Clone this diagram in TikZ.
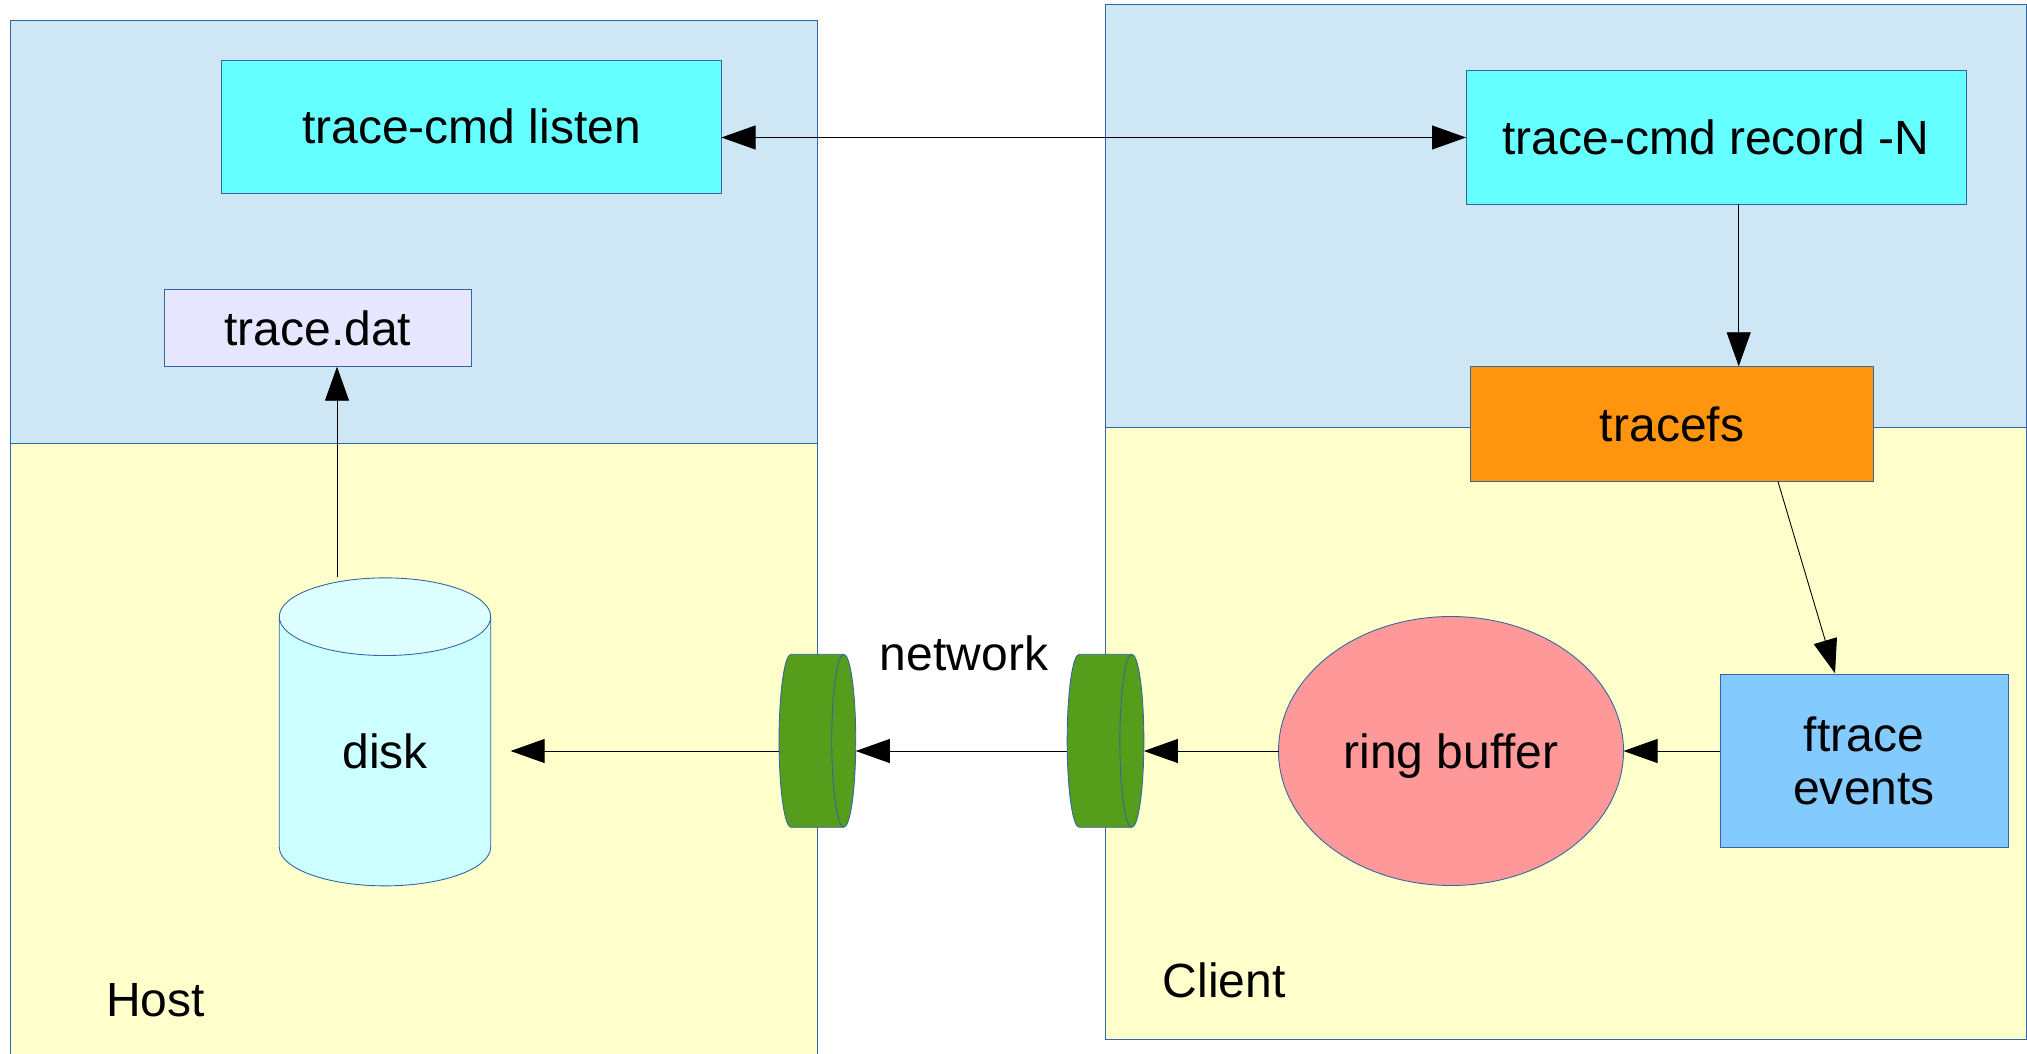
\documentclass[tikz,border=0pt]{standalone}
\usepackage{fontspec}
\setmainfont{Liberation Sans}
\usetikzlibrary{arrows.meta,shapes.geometric}

\definecolor{userblue}{HTML}{CFE7F5}
\definecolor{kernyellow}{HTML}{FFFFCC}
\definecolor{cmdcyan}{HTML}{66FFFF}
\definecolor{datlilac}{HTML}{E6E6FF}
\definecolor{fsorange}{HTML}{FF950E}
\definecolor{evblue}{HTML}{83CAFF}
\definecolor{ringpink}{HTML}{FF9999}
\definecolor{netgreen}{HTML}{579D1C}
\definecolor{diskbody}{HTML}{CCFFFF}
\definecolor{disktop}{HTML}{DEFFFF}
\definecolor{edgeblue}{HTML}{3465A4}

\tikzset{
  every node/.style={font=\fontsize{13.66}{15.08}\selectfont},
  area/.style={draw=edgeblue,line width=0.25pt,rectangle,inner sep=0pt,outer sep=0pt},
  box/.style={area,align=center},
  netend/.style={rectangle,inner sep=0pt,outer sep=0pt,minimum width=0.767cm,minimum height=1.73cm},
  netline/.style={draw=edgeblue,line width=0.25pt,fill=netgreen},
  link/.style={draw=black,line width=0.25pt,-{Triangle[length=0.34cm,width=0.24cm]}},
  twolink/.style={draw=black,line width=0.25pt,
    {Triangle[length=0.34cm,width=0.24cm]}-{Triangle[length=0.34cm,width=0.24cm]}}
}

\begin{document}
\begin{tikzpicture}
\useasboundingbox (0,0) rectangle (20.27,10.53);
% host and client
\node[area,fill=userblue,minimum width=8.065cm,minimum height=4.226cm] (hostuser) at (4.1375,8.21) {};
\node[area,fill=kernyellow,minimum width=8.065cm,minimum height=6.367cm] (hostkern) at (4.1375,2.913) {};
\node[area,fill=userblue,minimum width=9.21cm,minimum height=4.228cm] (clientuser) at (15.655,8.371) {};
\node[area,fill=kernyellow,minimum width=9.21cm,minimum height=6.117cm] (clientkern) at (15.655,3.1985) {};
% boxes
\node[box,fill=cmdcyan,minimum width=5cm,minimum height=1.335cm] (listen) at (4.715,9.263) {trace-cmd listen};
\node[box,fill=datlilac,minimum width=3.077cm,minimum height=0.774cm] (dat) at (3.178,7.25) {trace.dat};
\node[box,fill=cmdcyan,minimum width=5cm,minimum height=1.335cm] (record) at (17.16,9.155) {trace-cmd record -N};
\node[box,fill=fsorange,minimum width=4.032cm,minimum height=1.154cm] (tracefs) at (16.72,6.29) {tracefs};
\node[box,fill=evblue,minimum width=2.88cm,minimum height=1.73cm] (ftrace) at (18.64,2.92) {ftrace\\events};
\node[ellipse,draw=edgeblue,line width=0.25pt,fill=ringpink,inner sep=0pt,outer sep=0pt,text depth=0pt,minimum width=3.45cm,minimum height=2.69cm] (ring) at (14.51,3.02) {ring buffer};
% disk and the two network ends
\node[cylinder,draw=edgeblue,line width=0.25pt,inner sep=0pt,outer sep=0pt,cylinder uses custom fill,
  shape border rotate=90,shape aspect=0.91,minimum width=2.114cm,minimum height=3.08cm,
  cylinder body fill=diskbody,cylinder end fill=disktop] (disk) at (3.85,3.015) {disk};
\node[netend] (netl) at (8.174,3.122) {};
\node[netend] (netr) at (11.055,3.122) {};
\foreach \n in {netl,netr} {
  \path[netline] ([xshift=0.12cm]\n.north west) arc (90:270:0.12 and 0.865)
    -- ([xshift=-0.12cm]\n.south east) arc (-90:90:0.12 and 0.865) -- cycle;
  \draw[edgeblue,line width=0.25pt] ([xshift=-0.12cm]\n.north east) arc (90:270:0.12 and 0.865);
}
% texts
\node[anchor=base west,inner sep=0pt] (host) at (1.055,0.37) {Host};
\node[anchor=base west,inner sep=0pt] (client) at (11.62,0.56) {Client};
\node[anchor=base,inner sep=0pt] (network) at (9.64,3.83) {network};
% free ends
\coordinate (diskout) at (3.37,4.757);
\coordinate (diskin) at (5.106,3.02);
\coordinate (recout) at (17.387,8.49);
\coordinate (traceout) at (17.78,5.713);
\coordinate (ftracein) at (18.35,3.797);
% arrows
\draw[twolink] (listen.east |- record.west) -- (record.west);
\draw[link] (recout) -- (recout |- tracefs.north);
\draw[link] (traceout) -- (ftracein);
\draw[link] (ftrace.west |- ring.east) -- (ring.east);
\draw[link] (ring.west) -- (netr.east |- ring.west);
\draw[link] (netr.west |- diskin) -- (netl.east |- diskin);
\draw[link] (netl.west |- diskin) -- (diskin);
\draw[link] (diskout) -- (diskout |- dat.south);
\end{tikzpicture}
\end{document}
